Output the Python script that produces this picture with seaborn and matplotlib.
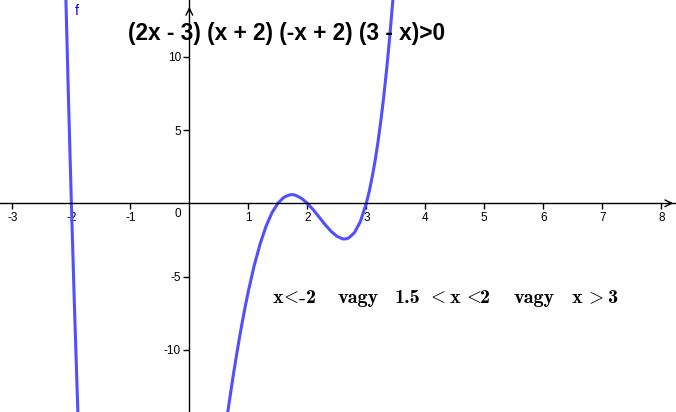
import matplotlib
matplotlib.use("Agg")
import matplotlib.pyplot as plt
import seaborn as sns

# ----------------------------------------------------------
# DATA  (points read off the curve of f)
# ----------------------------------------------------------

left_x = [-2.10, -2.05, -2.00, -1.95, -1.90, -1.88]
left_y = [15.06, 7.26, 0.00, -6.75, -13.00, -15.36]

right_x = [0.60, 0.65, 0.70, 0.75, 0.80, 0.85, 0.90, 0.95, 1.00, 1.10, 1.20,
           1.30, 1.40, 1.50, 1.60, 1.70, 1.75, 1.80, 1.90, 2.00, 2.10, 2.20,
           2.30, 2.40, 2.50, 2.60, 2.65, 2.70, 2.80, 2.90, 3.00, 3.05, 3.10,
           3.15, 3.20, 3.25, 3.30, 3.35, 3.40, 3.45, 3.50]
right_y = [-15.73, -14.29, -12.92, -11.60, -10.35, -9.16, -8.04, -6.99, -6.00,
           -4.24, -2.77, -1.57, -0.65, 0.00, 0.40, 0.58, 0.59, 0.55, 0.34,
           0.00, -0.44, -0.94, -1.45, -1.90, -2.25, -2.43, -2.43, -2.37,
           -2.00, -1.24, 0.00, 0.82, 1.80, 2.93, 4.24, 5.74, 7.44, 9.35,
           11.49, 13.87, 16.50]

x_ticks = [-3, -2, -1, 1, 2, 3, 4, 5, 6, 7, 8]
y_ticks = [-10, -5, 5, 10]

title_text = "(2x - 3) (x + 2) (-x + 2) (3 - x)>0"
# answer "x<-2  vagy  1.5 < x <2    vagy   x > 3", token by token
answer_tokens = ["x", "<", "-", "2", "vagy", "1.5", "<", "x", "<", "2",
                 "vagy", "x", ">", "3"]
# left edge of words, centre of the relation signs (pixels)
answer_px = [273, 289, 298, 306, 337, 395, 436, 450, 472, 480,
             513, 572, 594, 607]

# ----------------------------------------------------------
# STYLE
# ----------------------------------------------------------

sns.set_theme(style="white")
plt.rcParams["font.family"] = ["Liberation Sans", "DejaVu Sans"]
plt.rcParams["mathtext.fontset"] = "cm"
plt.rcParams["axes.unicode_minus"] = False
curve_color = "#5050ff"

W, H = 676, 412

# ----------------------------------------------------------
# PLOT
# ----------------------------------------------------------

fig = plt.figure(figsize=(W / 100, H / 100), dpi=100)
ax = fig.add_axes([0, 0, 1, 1])

sns.lineplot(x=left_x, y=left_y, ax=ax, color=curve_color, lw=2.2, sort=False)
sns.lineplot(x=right_x, y=right_y, ax=ax, color=curve_color, lw=2.2, sort=False)

ax.set_xlim(-3.21, 8.25)
ax.set_ylim(-14.24, 13.87)

# axes through the origin
ax.spines["left"].set_position(("data", 0))
ax.spines["bottom"].set_position(("data", 0))
ax.spines["top"].set_visible(False)
ax.spines["right"].set_visible(False)
for s in ("left", "bottom"):
    ax.spines[s].set_color("black")
    ax.spines[s].set_linewidth(1.0)

ax.set_xticks(x_ticks)
ax.set_yticks(y_ticks)
ax.tick_params(axis="both", direction="out", length=4, width=1, color="black",
               labelsize=8.5, labelcolor="black", pad=2)
ax.tick_params(axis="both", bottom=True, left=True)
ax.set_facecolor("white")
ax.grid(False)

# arrows at the ends of the axes
ax.annotate("", xy=(1.0, 0), xycoords=("axes fraction", "data"),
            xytext=(0.985, 0), textcoords=("axes fraction", "data"),
            arrowprops=dict(arrowstyle="->", color="black", lw=1))
ax.annotate("", xy=(0, 0.99), xycoords=("data", "axes fraction"),
            xytext=(0, 0.965), textcoords=("data", "axes fraction"),
            arrowprops=dict(arrowstyle="->", color="black", lw=1))

ax.text(-0.19, -0.7, "0", fontsize=8.5, ha="center", va="center", color="black")
ax.text(-1.9, 13.1, "f", fontsize=10, color="blue", ha="center", va="center")

ax.text(286.5 / W, 1 - 33.5 / H, title_text, transform=ax.transAxes,
        fontsize=16.3, fontweight="bold", ha="center", va="center", color="black")

for tok, px in zip(answer_tokens, answer_px):
    pos = (px / W, 1 - 303 / H)
    if tok in ("<", ">"):
        ax.text(*pos, "${" + tok + "}$", transform=ax.transAxes,
                fontsize=14, ha="center", va="baseline", color="black")
    elif tok == "-":
        ax.text(*pos, r"$\mathbf{\text{-}}$", transform=ax.transAxes,
                fontsize=15, ha="left", va="baseline", color="black")
    else:
        ax.text(*pos, tok, transform=ax.transAxes,
                fontsize=14.5, family="cmb10", ha="left", va="baseline",
                color="black")

fig.savefig("out.png", dpi=100)
